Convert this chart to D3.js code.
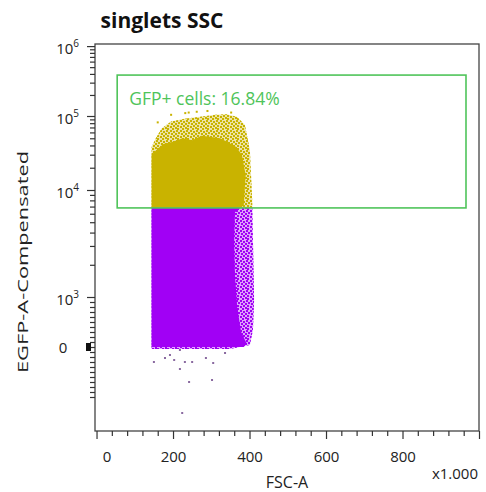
<!DOCTYPE html>
<html>
<head>
<meta charset="utf-8">
<script src="https://cdn.jsdelivr.net/npm/d3@7"></script>
<style>
  html, body { margin: 0; padding: 0; background: #fff; }
  svg { display: block; font-family: "Open Sans", "Noto Sans", sans-serif; }
</style>
</head>
<body>
<svg id="chart" width="486" height="492"></svg>
<script>
// ---------------- data ----------------
const title = "singlets SSC";
const xLabel = "FSC-A";
const xMultiplier = "x1.000";
const yLabel = "EGFP-A-Compensated";

// x axis (FSC-A, in thousands)
const xMajorTicks = [0, 200, 400, 600, 800, 1000];
const xMajorLabels = ["0", "200", "400", "600", "800", ""];
const xMinorStep = 40;

// y axis (biexponential display)
const yMajorTicks = [0, 1e3, 1e4, 1e5, 1e6];
const yMajorExponents = [null, "3", "4", "5", "6"];

// gate: GFP+ cells
const gateX = [54, 966];
const gateY = [6800, 385000];
const gateLabel = "GFP+ cells: 16.84%";

// population outline: dense core (x in thousands, y raw EGFP)
const coreX = [144, 144, 160, 175, 200, 225, 250, 275, 300, 323, 345, 365, 380, 390, 385, 362, 360, 362, 368, 378, 392, 385, 144];
const coreY = [0, 30000, 36000, 42000, 45000, 50000, 47000, 54000, 52000, 50000, 44000, 38000, 30000, 16000, 7200, 6200, 3300, 1600, 780, 300, 80, 0, 0];

// population outline: sparse fringe envelope
const fringeX = [144, 144, 155, 170, 195, 230, 271, 310, 340, 367, 388, 401, 407, 409, 412, 409, 401, 349, 144];
const fringeY = [-40, 38000, 50000, 68000, 84000, 92000, 98000, 104000, 106000, 98000, 75500, 34800, 8070, 3410, 940, 340, 40, -40, -40];

// isolated events
const outX = [150, 179, 192, 218, 203, 231, 250, 286, 305, 336, 218, 242, 302, 224, 234, 160, 232, 241, 195, 262, 352, 290];
const outY = [-300, -220, -160, -60, -260, -300, -300, -220, -320, -120, -440, -700, -660, -1320, 631000, 82000, 110000, 112000, 104000, 115000, 112000, 118000];

// ---------------- scales ----------------
const svg = d3.select("#chart");
const frame = {left: 95, right: 479, top: 44, bottom: 431};

const x = d3.scaleLinear().domain([-4, 1000]).range([frame.left, frame.right]);

// biexponential-like transform: linear below 1000, log10 above
const u = v => v >= 1000 ? Math.log10(v) : 2 + v / 1000;
const yT = d3.scaleLinear()
  .domain([0.32, 2, 3, 4, 5, 6.03])
  .range([frame.bottom, 347, 297, 190, 116, frame.top]);
const y = v => yT(u(v));

const purple = "#a100f5";
const yellow = "#c9b300";
const green = "#4fc45a";
const ink = "#222";

// ---------------- defs ----------------
const defs = svg.append("defs");
defs.append("clipPath").attr("id", "inGate")
  .append("rect")
  .attr("x", x(gateX[0])).attr("y", y(gateY[1]))
  .attr("width", x(gateX[1]) - x(gateX[0]))
  .attr("height", y(gateY[0]) - y(gateY[1]));
defs.append("clipPath").attr("id", "outGate")
  .append("rect")
  .attr("x", frame.left).attr("y", y(gateY[0]))
  .attr("width", frame.right - frame.left)
  .attr("height", frame.bottom - y(gateY[0]));
defs.append("clipPath").attr("id", "plotArea")
  .append("rect")
  .attr("x", frame.left).attr("y", frame.top)
  .attr("width", frame.right - frame.left)
  .attr("height", frame.bottom - frame.top);

// speckle texture for sparse regions (pure styling)
const speckle = [[0,0],[3,1],[6,0],[1,3],[5,3],[3,5],[7,5],[0,6],[5,7],[2,8],[8,2],[7,8]];
function makePattern(id, color) {
  const p = defs.append("pattern").attr("id", id)
    .attr("patternUnits", "userSpaceOnUse").attr("width", 10).attr("height", 10);
  speckle.forEach(s => p.append("rect").attr("x", s[0]).attr("y", s[1])
    .attr("width", 2).attr("height", 2).attr("fill", color));
}
makePattern("spP", purple);
makePattern("spY", yellow);

// ---------------- population ----------------
const line = d3.line().x(d => x(d[0])).y(d => y(d[1])).curve(d3.curveLinearClosed);
const core = coreX.map((v, i) => [v, coreY[i]]);
const fringe = fringeX.map((v, i) => [v, fringeY[i]]);
const outliers = outX.map((v, i) => [v, outY[i]]);

function drawPopulation(g, color, pat, dotColor) {
  g.append("path").attr("d", line(fringe)).attr("fill", color).attr("opacity", 0.35);
  g.append("path").attr("d", line(fringe)).attr("fill", `url(#${pat})`);
  g.append("path").attr("d", line(core)).attr("fill", color);
  g.selectAll("rect.ev").data(outliers).join("rect")
    .attr("class", "ev")
    .attr("x", d => x(d[0]) - 1).attr("y", d => y(d[1]) - 1)
    .attr("width", 2).attr("height", 2)
    .attr("fill", dotColor);
}
const plot = svg.append("g").attr("clip-path", "url(#plotArea)");
drawPopulation(plot.append("g").attr("clip-path", "url(#outGate)"), purple, "spP", "#8a6aa0");
drawPopulation(plot.append("g").attr("clip-path", "url(#inGate)"), yellow, "spY", yellow);

// ---------------- frame ----------------
svg.append("rect")
  .attr("x", frame.left).attr("y", frame.top)
  .attr("width", frame.right - frame.left).attr("height", frame.bottom - frame.top)
  .attr("fill", "none").attr("stroke", "#444").attr("stroke-width", 1.3);

// ---------------- gate ----------------
svg.append("rect")
  .attr("x", x(gateX[0])).attr("y", y(gateY[1]))
  .attr("width", x(gateX[1]) - x(gateX[0]))
  .attr("height", y(gateY[0]) - y(gateY[1]))
  .attr("fill", "none").attr("stroke", green).attr("stroke-width", 1.6);
svg.append("text")
  .attr("x", x(gateX[0]) + 12).attr("y", y(gateY[1]) + 30)
  .attr("fill", green).attr("font-size", 17.5)
  .text(gateLabel);

// ---------------- x axis ----------------
const xMinor = d3.range(0, 1001, xMinorStep).filter(v => !xMajorTicks.includes(v));
const xAxisMinor = svg.append("g").attr("transform", `translate(0,${frame.bottom})`)
  .call(d3.axisBottom(x).tickValues(xMinor).tickSize(5).tickFormat(""));
const xAxis = svg.append("g").attr("transform", `translate(0,${frame.bottom})`)
  .call(d3.axisBottom(x).tickValues(xMajorTicks).tickSize(8).tickPadding(12)
    .tickFormat((d, i) => xMajorLabels[i]));
[xAxisMinor, xAxis].forEach(g => {
  g.select(".domain").remove();
  g.selectAll("line").attr("stroke", "#333").attr("stroke-width", 1.2);
});
xAxis.selectAll("text").attr("font-size", 15).attr("fill", ink)
  .attr("font-family", "Open Sans, sans-serif");
xAxis.selectAll(".tick text").filter(d => d === 0).attr("dx", 10);

// ---------------- y axis ----------------
const yMinor = [];
d3.range(-1000, 1000, 100).forEach(v => { if (v !== 0) yMinor.push(v); });
[1e3, 1e4, 1e5].forEach(dec => d3.range(2, 10).forEach(m => yMinor.push(m * dec)));
const yAxisMinor = svg.append("g").attr("transform", `translate(${frame.left},0)`)
  .call(d3.axisLeft(yT).tickValues(yMinor.map(u)).tickSize(5).tickFormat(""));
const yAxis = svg.append("g").attr("transform", `translate(${frame.left},0)`)
  .call(d3.axisLeft(yT).tickValues(yMajorTicks.map(u)).tickSize(8).tickFormat(""));
[yAxisMinor, yAxis].forEach(g => {
  g.select(".domain").remove();
  g.selectAll("line").attr("stroke", "#333").attr("stroke-width", 1.2);
});
// dense marker of events piled at zero
svg.append("rect")
  .attr("x", frame.left - 9).attr("y", y(0) - 4)
  .attr("width", 5).attr("height", 8).attr("fill", "#111");

yMajorTicks.forEach((v, i) => {
  const t = svg.append("text")
    .attr("y", y(v) + 8)
    .attr("font-size", 15).attr("fill", ink);
  if (yMajorExponents[i] === null) {
    t.attr("x", 63).attr("text-anchor", "middle").attr("y", y(v) + 6).text("0");
  } else {
    t.attr("x", 79).attr("text-anchor", "end");
    t.append("tspan").text("10");
    t.append("tspan").attr("font-size", 10).attr("dy", -7).text(yMajorExponents[i]);
  }
});

// ---------------- labels ----------------
svg.append("text")
  .attr("x", 162).attr("y", 28).attr("text-anchor", "middle")
  .attr("font-size", 21).attr("font-weight", "bold").attr("fill", "#111")
  .text(title);
svg.append("text")
  .attr("x", 287).attr("y", 488).attr("text-anchor", "middle")
  .attr("font-size", 16).attr("fill", ink)
  .text(xLabel);
svg.append("text")
  .attr("x", 478).attr("y", 479).attr("text-anchor", "end")
  .attr("font-size", 15).attr("fill", ink)
  .text(xMultiplier);
svg.append("text")
  .attr("transform", "translate(28,262) rotate(-90)")
  .attr("text-anchor", "middle")
  .attr("font-size", 15).attr("fill", ink)
  .attr("textLength", 222).attr("lengthAdjust", "spacingAndGlyphs")
  .text(yLabel);
</script>
</body>
</html>
